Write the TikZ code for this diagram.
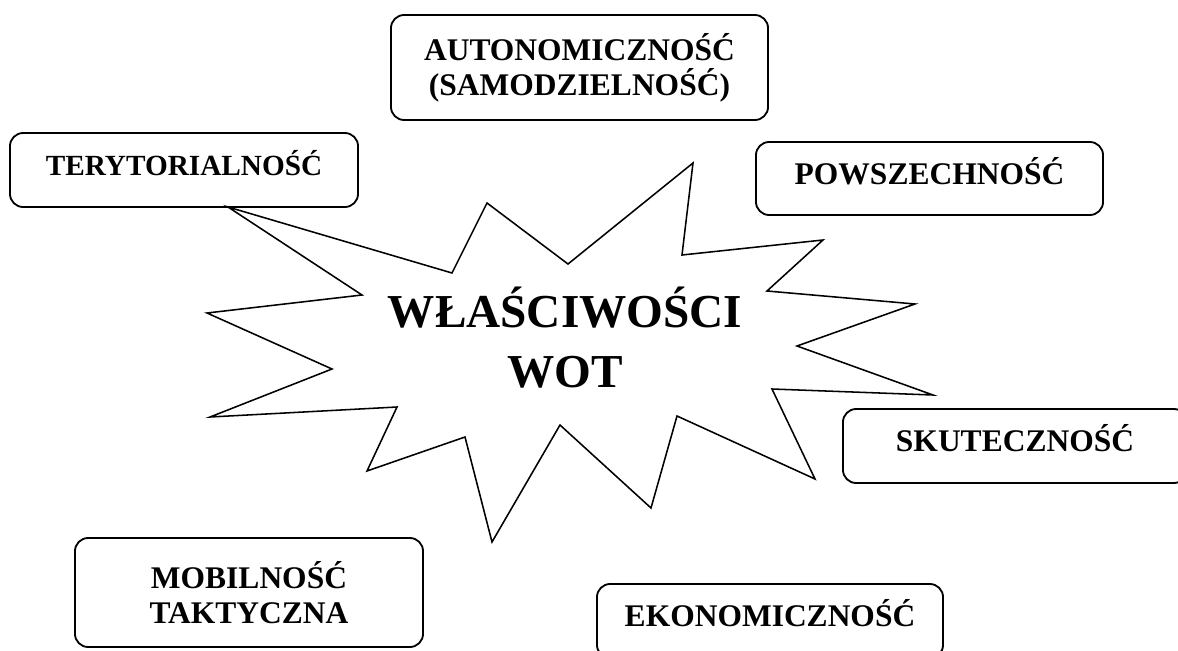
\documentclass[tikz,border=0pt]{standalone}
\usepackage{fontspec}
\setmainfont{Liberation Serif}
\usepackage{tikz}

\begin{document}
\begin{tikzpicture}[x=0.025cm,y=-0.025cm,
    feature/.style={draw,black,line width=1.3pt,rounded corners=0.33cm,inner sep=0pt,
      font=\bfseries\fontsize{22.4}{24.8}\selectfont,minimum width=8.7cm,minimum height=1.85cm},
    oneline/.style={text height=17pt,text depth=8.7pt}]
      \clip (0,0) rectangle (1178,651);
      \draw [-,line width=1.1pt,black] (228,207) -- (452,273) -- (487,203) -- (568,264) -- (693,163) -- (682,255) -- (823,240) -- (767,291) -- (915,304) -- (797,346) -- (933,395) -- (772,389) -- (815,479) -- (677,416) -- (651,508) -- (560,425) -- (492,542) -- (465,437) -- (367,471) -- (397,407) -- (210,417) -- (332,369) -- (207,313) -- (362,295) -- cycle;
      \node [font=\bfseries\fontsize{33.6}{42.7}\selectfont,align=center] (wot) at (565,338) {WŁAŚCIWOŚCI\\WOT};
      \node [feature,align=center,minimum width=9.425cm,minimum height=2.625cm] (autonomy) at (579.5,67.5) {AUTONOMICZNOŚĆ\\(SAMODZIELNOŚĆ)};
      \node [feature,oneline,font=\bfseries\fontsize{20.8}{24.8}\selectfont] (territory) at (184,170) {TERYTORIALNOŚĆ};
      \node [feature,oneline,minimum width=8.675cm,minimum height=1.825cm] (universal) at (929.5,178.5) {POWSZECHNOŚĆ};
      \node [feature,oneline,minimum width=8.6cm] (effective) at (1015,446) {SKUTECZNOŚĆ};
      \node [feature,align=center,minimum height=2.725cm] (mobility) at (249,592.5) {MOBILNOŚĆ\\TAKTYCZNA};
      \node [feature,oneline,minimum width=8.65cm] (economy) at (770,621) {EKONOMICZNOŚĆ};
    \end{tikzpicture}
\end{document}
